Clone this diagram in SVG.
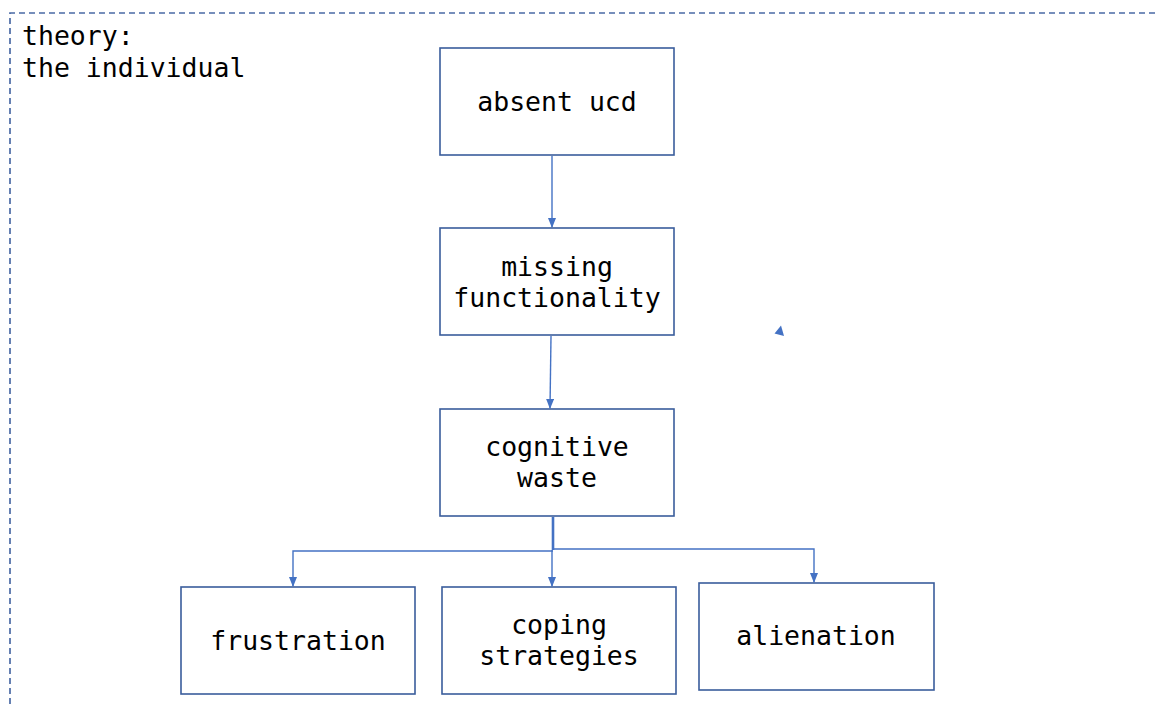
<svg xmlns="http://www.w3.org/2000/svg" width="1156" height="704" viewBox="0 0 1156 704">
<style>
.box{fill:#fff;stroke:#3a5d9c;stroke-width:1.6}
.t{font-family:"DejaVu Sans Mono","Liberation Mono",monospace;font-size:26.5px;fill:#000;text-anchor:middle}
.lbl{font-family:"DejaVu Sans Mono","Liberation Mono",monospace;font-size:26.5px;fill:#000}
.c{fill:none;stroke:#4472c4;stroke-width:1.4}
</style>
<defs>
<marker id="ah" markerWidth="10" markerHeight="8" refX="9" refY="4" orient="auto" markerUnits="userSpaceOnUse">
<path d="M0,0 L10,4 L0,8 z" fill="#4472c4"/>
</marker>
</defs>
<rect width="1156" height="704" fill="#fff"/>
<g id="frame">
<path d="M10,704 L10,13 L1156,13" fill="none" stroke="#4a6aa5" stroke-width="1.7" stroke-dasharray="6,4"/>
<text class="lbl" x="22" y="45">theory:</text>
<text class="lbl" x="22" y="77">the individual</text>
</g>
<g id="connectors">
<line class="c" x1="552" y1="156" x2="552" y2="227" marker-end="url(#ah)"/>
<line class="c" x1="551" y1="336" x2="550" y2="408" marker-end="url(#ah)"/>
<line x1="553" y1="517" x2="553" y2="550" stroke="#4472c4" stroke-width="2.6"/>
<polyline class="c" points="553,551 293,551 293,586" marker-end="url(#ah)"/>
<line class="c" x1="552" y1="550" x2="552" y2="586" marker-end="url(#ah)"/>
<polyline class="c" points="553,549 814,549 814,582" marker-end="url(#ah)"/>
<polygon points="774.5,333.5 781,325.5 784,336" fill="#4472c4"/>
</g>
<g id="absent-ucd">
<rect class="box" x="440" y="48" width="234" height="107"/>
<text class="t" x="557" y="111">absent ucd</text>
</g>
<g id="missing-functionality">
<rect class="box" x="440" y="228" width="234" height="107"/>
<text class="t" x="557" y="276">missing</text>
<text class="t" x="557" y="307">functionality</text>
</g>
<g id="cognitive-waste">
<rect class="box" x="440" y="409" width="234" height="107"/>
<text class="t" x="557" y="456">cognitive</text>
<text class="t" x="557" y="487">waste</text>
</g>
<g id="frustration">
<rect class="box" x="181" y="587" width="234" height="107"/>
<text class="t" x="298" y="650">frustration</text>
</g>
<g id="coping-strategies">
<rect class="box" x="442" y="587" width="234" height="107"/>
<text class="t" x="559" y="634">coping</text>
<text class="t" x="559" y="665">strategies</text>
</g>
<g id="alienation">
<rect class="box" x="699" y="583" width="235" height="107"/>
<text class="t" x="816" y="645">alienation</text>
</g>
</svg>
